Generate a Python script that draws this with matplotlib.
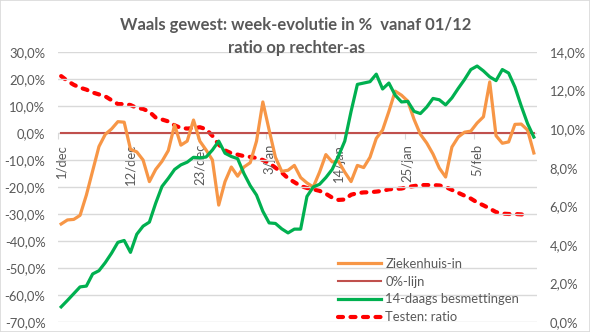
import matplotlib
matplotlib.use("Agg")
import matplotlib.pyplot as plt
from matplotlib.patches import Rectangle

plt.rcParams['font.family'] = ['Lato', 'DejaVu Sans']

# Day index 0 = 1 december; one value per day
ziekenhuis_in = [
    -33.7, -32.2, -32.0, -30.5, -23.0, -14.0, -5.0, -0.5, 1.5, 4.2,
    4.0, -6.0, -7.0, -10.0, -18.0, -13.5, -10.5, -6.5, 3.0, -4.5,
    -3.0, 4.8, -3.0, -6.3, -10.0, -26.7, -18.0, -12.6, -16.0, -12.6,
    -11.0, -3.0, 11.5, 1.1, -9.0, -14.2, -13.8, -12.0, -16.5, -18.5,
    -20.0, -14.5, -8.0, -10.7, -10.5, -14.5, -18.0, -12.0, -12.8, -9.0,
    -2.0, 1.1, 8.0, 15.5, 14.0, 11.8, 5.0, -0.5, -3.7, -7.8,
    -13.0, -16.3, -5.2, -1.5, 0.3, 0.7, 3.7, 6.0, 18.9, -1.0,
    -3.8, -3.3, 3.2, 3.3, 1.1, -7.4,
]

besmettingen_14d = [
    -64.4, -62.0, -59.5, -57.0, -56.7, -52.2, -51.0, -48.0, -44.5, -40.5,
    -39.8, -44.2, -37.5, -34.5, -33.0, -26.0, -19.8, -16.8, -13.5, -11.8,
    -10.8, -9.0, -9.2, -8.9, -6.3, -3.0, -7.5, -8.7, -9.5, -15.0,
    -19.5, -23.0, -29.0, -33.3, -33.5, -35.5, -37.0, -35.6, -35.6, -23.5,
    -20.0, -19.0, -16.5, -13.5, -8.5, -3.0, 8.0, 18.0, 18.5, 19.0,
    21.8, 16.3, 18.5, 14.0, 11.5, 11.7, 8.0, 7.2, 9.6, 12.8,
    12.3, 10.4, 13.0, 16.5, 19.8, 23.5, 24.8, 23.0, 20.8, 19.4,
    23.5, 22.2, 17.0, 10.0, 3.5, -1.5,
]

# Positivity ratio of tests (right axis), one day shorter
testen_ratio = [
    12.75, 12.5, 12.3, 12.15, 12.05, 11.9, 11.8, 11.7, 11.5, 11.3,
    11.3, 11.25, 11.1, 11.05, 10.9, 10.6, 10.5, 10.4, 10.2, 10.06,
    10.03, 10.05, 10.1, 10.0, 9.65, 9.2, 8.9, 8.75, 8.68, 8.6,
    8.56, 8.5, 8.4, 8.24, 8.0, 7.75, 7.45, 7.25, 7.05, 6.95,
    6.88, 6.8, 6.65, 6.45, 6.33, 6.35, 6.6, 6.68, 6.72, 6.73,
    6.76, 6.8, 6.88, 6.9, 6.92, 7.0, 7.05, 7.1, 7.1, 7.1,
    7.08, 7.0, 6.85, 6.7, 6.55, 6.4, 6.2, 6.05, 5.88, 5.7,
    5.62, 5.6, 5.6, 5.58, 5.55,
]

date_labels = ['1/dec', '12/dec', '23/dec', '3/jan', '14/jan', '25/jan', '5/feb']
label_step = 11

series_names = ['Ziekenhuis-in', '0%-lijn', '14-daags besmettingen', 'Testen: ratio']

GREY = '#595959'
GRID = '#D9D9D9'
C_ORANGE = '#F79646'
C_ZERO = '#C0504D'
C_GREEN = '#00B050'
C_RED = '#FF0000'
FS = 9.4

n = len(ziekenhuis_in)
days = list(range(n))
zero_line = [0.0] * n

fig = plt.figure(figsize=(5.9, 3.32), dpi=100)
fig.patches.append(Rectangle((0, 0), 1, 1, transform=fig.transFigure,
                             fill=False, edgecolor=GRID, linewidth=1.2))

W, H = 590, 332
ax = fig.add_axes([58 / W, 1 - 322 / H, (537 - 58) / W, (322 - 52) / H])
ax2 = ax.twinx()

l1, = ax.plot(days, ziekenhuis_in, color=C_ORANGE, lw=2.3, solid_joinstyle='round', zorder=3)
l2, = ax.plot(days, zero_line, color=C_ZERO, lw=1.5, zorder=2)
l3, = ax.plot(days, besmettingen_14d, color=C_GREEN, lw=2.3, solid_joinstyle='round', zorder=4)
l4, = ax2.plot(days[:len(testen_ratio)], testen_ratio, color=C_RED, lw=3.0,
               linestyle=(0, (1.2, 1.8)), dash_capstyle='round', zorder=3)

ax.set_ylim(-70, 30)
ax.set_yticks(range(-70, 31, 10))
ax.set_yticklabels([f"{v:.1f}%".replace('.', ',') for v in range(-70, 31, 10)])
ax2.set_ylim(0, 14)
ax2.set_yticks(range(0, 15, 2))
ax2.set_yticklabels([f"{v:.1f}%".replace('.', ',') for v in range(0, 15, 2)])

ax.set_xlim(-0.5, n - 0.5)
ax.grid(axis='y', color=GRID, lw=1.0)
ax.set_axisbelow(True)

for a in (ax, ax2):
    for s in a.spines.values():
        s.set_visible(False)
    a.tick_params(axis='y', length=0, colors=GREY, labelsize=FS, pad=9)

# category axis crosses at 0 %
ax.spines['bottom'].set_position(('data', 0))
label_pos = [i * label_step for i in range(len(date_labels))]
ax.set_xticks([p - 0.5 for p in label_pos])
ax.set_xticklabels([])
ax.set_xticks(label_pos, minor=True)
ax.set_xticklabels(date_labels, minor=True, rotation=90, va='top', ha='center')
ax.tick_params(axis='x', which='major', length=4, width=0.8, color=GRID, direction='out')
ax.tick_params(axis='x', which='minor', length=0, pad=8, labelsize=FS, labelcolor=GREY)

ax.set_zorder(ax2.get_zorder() + 1)
ax.patch.set_visible(False)

leg = ax.legend([l1, l2, l3, l4], series_names, loc='lower left',
                bbox_to_anchor=(0.585, -0.005), frameon=False, fontsize=FS,
                handlelength=3.3, handletextpad=0.3, labelspacing=0.45,
                borderpad=0, borderaxespad=0)
for t in leg.get_texts():
    t.set_color(GREY)

fig.text(296 / W, 1 - 25 / H, 'Waals gewest: week-evolutie in %  vanaf 01/12',
         ha='center', va='center', fontsize=12, fontweight='bold', color=GREY)
fig.text(296 / W, 1 - 48 / H, 'ratio op rechter-as',
         ha='center', va='center', fontsize=12, fontweight='bold', color=GREY)

fig.savefig('out.png', dpi=100)
